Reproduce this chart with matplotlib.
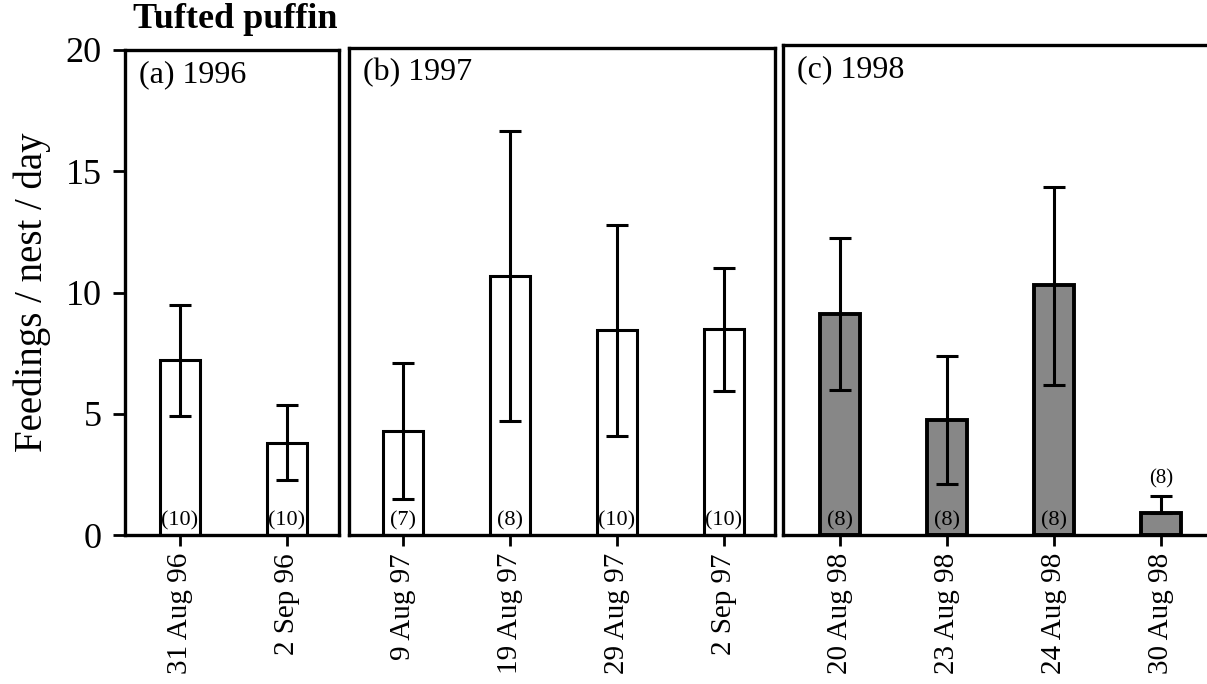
import matplotlib
matplotlib.use('Agg')
import matplotlib.pyplot as plt

plt.rcParams['font.family'] = ['Liberation Serif', 'DejaVu Serif']

# --- data ---
dates_96 = ['31 Aug 96', '2 Sep 96']
means_96 = [7.2, 3.8]
err_lo_96 = [2.3, 1.55]
err_hi_96 = [2.3, 1.55]
n_96 = ['(10)', '(10)']

dates_97 = ['9 Aug 97', '19 Aug 97', '29 Aug 97', '2 Sep 97']
means_97 = [4.3, 10.7, 8.45, 8.5]
err_lo_97 = [2.8, 6.0, 4.35, 2.55]
err_hi_97 = [2.8, 5.95, 4.35, 2.5]
n_97 = ['(7)', '(8)', '(10)', '(10)']

dates_98 = ['20 Aug 98', '23 Aug 98', '24 Aug 98', '30 Aug 98']
means_98 = [9.1, 4.75, 10.3, 0.9]
err_lo_98 = [3.1, 2.65, 4.1, 0.0]
err_hi_98 = [3.15, 2.65, 4.05, 0.7]
n_98 = ['(8)', '(8)', '(8)', '(8)']

panels = [
    ('(a) 1996', dates_96, means_96, err_lo_96, err_hi_96, n_96, 'white'),
    ('(b) 1997', dates_97, means_97, err_lo_97, err_hi_97, n_97, 'white'),
    ('(c) 1998', dates_98, means_98, err_lo_98, err_hi_98, n_98, '#878787'),
]

W, H = 1207, 684
fig = plt.figure(figsize=(W / 100, H / 100), dpi=100)

# axes boxes in pixels: left, right, top ; all share the same baseline
boxes = [(125, 339, 50), (349, 775, 48), (783, 1215, 45)]
bottom_px = 535
px_per_unit = 24.25  # y pixels per feeding
bar_spacing = 107.0  # x pixels between bars
first_bar_px = [180, 403, 840]

for i, (label, dates, means, lo, hi, ns, color) in enumerate(panels):
    left, right, top = boxes[i]
    ax = fig.add_axes([left / W, 1 - bottom_px / H, (right - left) / W, (bottom_px - top) / H])
    x = list(range(len(dates)))
    ax.bar(x, means, width=0.37, color=color, edgecolor='black',
           linewidth=2.8 if i == 2 else 2.2, zorder=2)
    ax.errorbar(x, means, yerr=[lo, hi], fmt='none', ecolor='black',
                elinewidth=2.2, capsize=8, capthick=2.2, zorder=3)
    for xi, m, h, n in zip(x, means, hi, ns):
        if m < 2:
            ax.text(xi, m + h + 0.3, n, ha='center', va='bottom', fontsize=15)
        else:
            ax.text(xi, 0.2, n, ha='center', va='bottom', fontsize=16)

    ymax = (bottom_px - top) / px_per_unit
    ax.set_ylim(0, ymax)
    x0 = (left - first_bar_px[i]) / bar_spacing
    x1 = (right - first_bar_px[i]) / bar_spacing
    ax.set_xlim(x0, x1)

    ax.set_xticks(x)
    ax.set_xticklabels(dates, rotation=90, fontsize=21)
    ax.tick_params(axis='x', direction='out', length=8, width=2, pad=5)

    for sp in ax.spines.values():
        sp.set_linewidth(2.4)

    if i == 0:
        ax.set_yticks([0, 5, 10, 15, 20])
        ax.tick_params(axis='y', direction='out', length=9, width=2, labelsize=26, pad=8)
        ax.set_ylabel('Feedings / nest / day', fontsize=28, labelpad=10)
    else:
        ax.set_yticks([])

    ax.annotate(label, xy=(0, 1), xycoords='axes fraction',
                xytext=(10, -7), textcoords='offset points',
                ha='left', va='top', fontsize=23)

fig.text(133 / W, 1 - 20 / H, 'Tufted puffin', fontsize=26, fontweight='bold',
         ha='left', va='center')

fig.savefig('out.png', dpi=100)
